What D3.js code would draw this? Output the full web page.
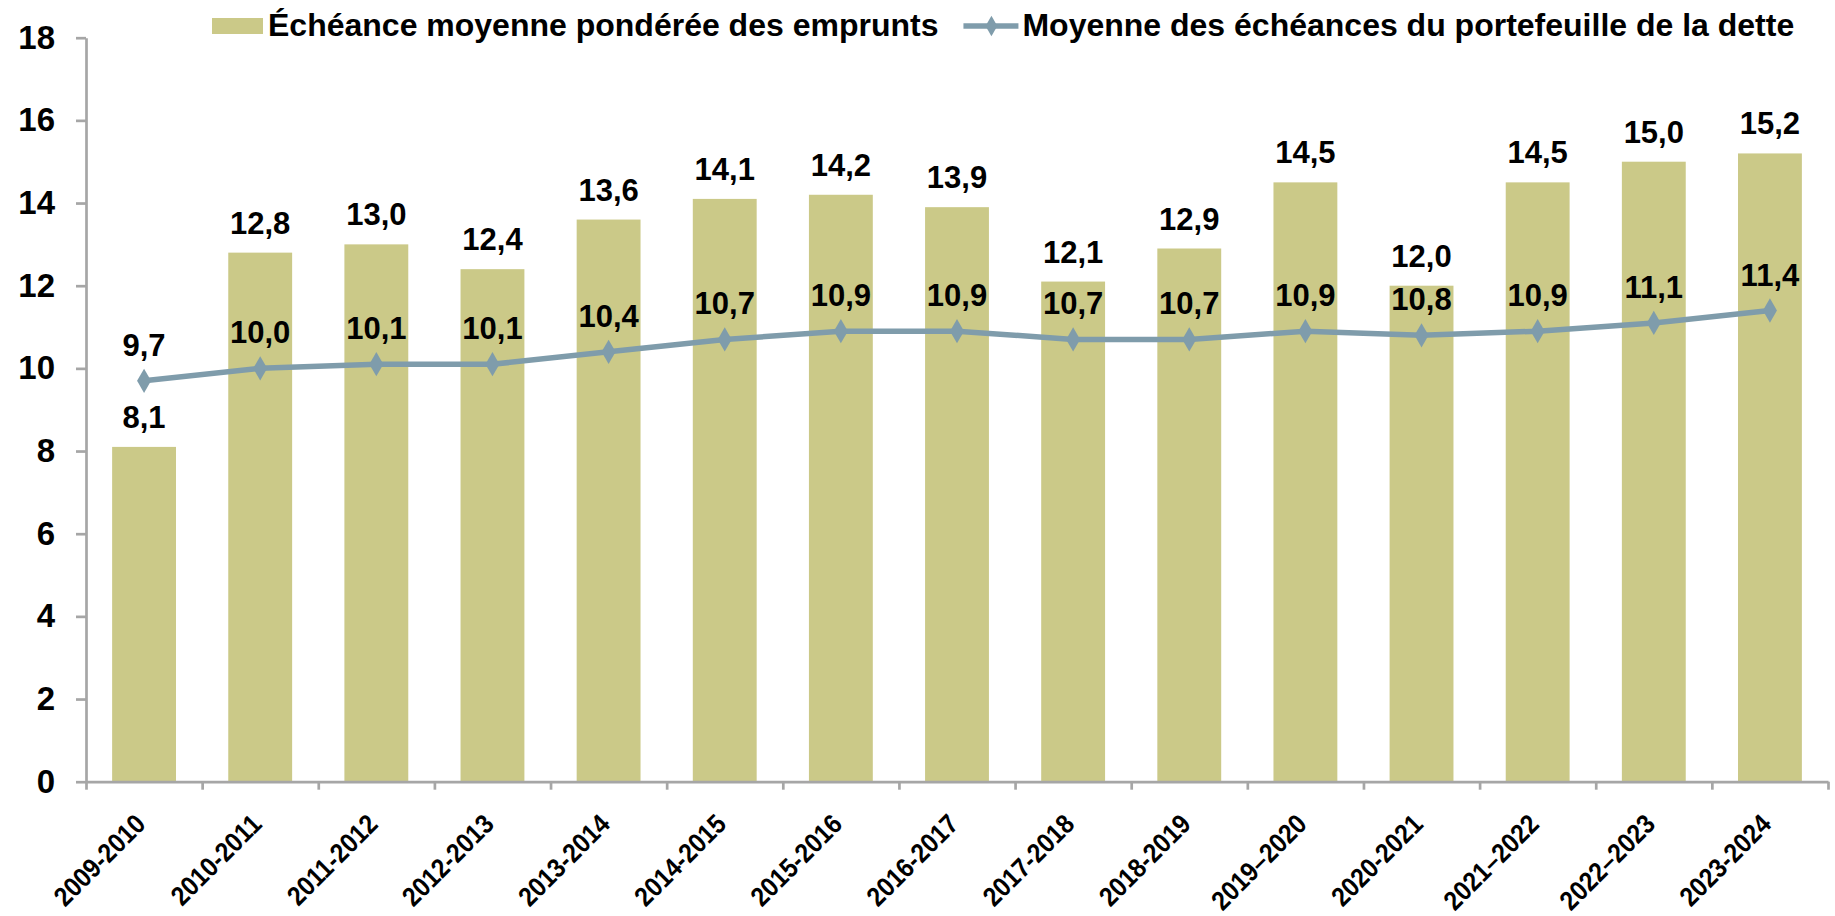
<!DOCTYPE html>
<html lang="fr">
<head>
<meta charset="utf-8">
<title>Échéances</title>
<script src="https://d3js.org/d3.v7.min.js"></script>
<style>
body { margin: 0; background: #fff; }
text { font-family: "Liberation Sans", Arial, sans-serif; font-weight: bold; fill: #000; }
.axis path, .axis line { stroke: #a6a6a6; stroke-width: 2.7; }
</style>
</head>
<body>
<svg id="chart" width="1835" height="916"></svg>
<script>
// data
var years = ["2009-2010", "2010-2011", "2011-2012", "2012-2013", "2013-2014", "2014-2015",
    "2015-2016", "2016-2017", "2017-2018", "2018-2019", "2019\u20132020", "2020-2021",
    "2021\u20132022", "2022\u20132023", "2023-2024"];
var emprunts = [8.1, 12.8, 13.0, 12.4, 13.6, 14.1, 14.2, 13.9, 12.1, 12.9, 14.5, 12.0, 14.5, 15.0, 15.2];
var portefeuille = [9.7, 10.0, 10.1, 10.1, 10.4, 10.7, 10.9, 10.9, 10.7, 10.7, 10.9, 10.8, 10.9, 11.1, 11.4];
var yTicks = [0, 2, 4, 6, 8, 10, 12, 14, 16, 18];
var seriesNames = ["Échéance moyenne pondérée des emprunts", "Moyenne des échéances du portefeuille de la dette"];

var barColor = "#cbc988",
    lineColor = "#7f9cab";

var svg = d3.select("#chart"),
    plotL = 86, plotR = 1828, plotT = 37.7, plotB = 781.7;

var fmt = function(v) { return d3.format(".1f")(v).replace(".", ","); };

var x = d3.scaleBand()
    .domain(years)
    .range([plotL, plotR])
    .paddingInner(0.45)
    .paddingOuter(0.225);

var xEdge = d3.scaleLinear()
    .domain([0, years.length])
    .range([plotL, plotR]);

var y = d3.scaleLinear()
    .domain([0, 18])
    .range([plotB, plotT]);

// bars
svg.append("g").selectAll("rect")
    .data(emprunts)
    .enter().append("rect")
    .attr("x", function(d, i) { return x(years[i]); })
    .attr("y", function(d) { return y(d); })
    .attr("width", x.bandwidth())
    .attr("height", function(d) { return y(0) - y(d); })
    .attr("fill", barColor);

// axes
svg.append("g")
    .attr("class", "axis")
    .attr("transform", "translate(" + plotL + ",0)")
    .call(d3.axisLeft(y).tickValues(yTicks).tickSize(10).tickSizeOuter(0).tickFormat(""));

svg.append("g")
    .attr("class", "axis")
    .attr("transform", "translate(0," + plotB + ")")
    .call(d3.axisBottom(xEdge).tickValues(d3.range(years.length + 1)).tickSize(8).tickSizeOuter(0).tickFormat(""));

svg.append("g").selectAll("text")
    .data(yTicks)
    .enter().append("text")
    .attr("x", 55)
    .attr("y", function(d) { return y(d) + 11; })
    .attr("text-anchor", "end")
    .style("font-size", "33px")
    .text(function(d) { return d; });

// category labels, slightly narrow like the original
svg.append("g").selectAll("text")
    .data(years)
    .enter().append("text")
    .attr("text-anchor", "end")
    .attr("transform", function(d) {
        return "translate(" + (x(d) + x.bandwidth() / 2 + 3) + "," + (plotB + 44) + ") rotate(-45) scale(0.9,1)";
    })
    .style("font-size", "27px")
    .text(function(d) { return d; });

// bar labels
svg.append("g").selectAll("text")
    .data(emprunts)
    .enter().append("text")
    .attr("x", function(d, i) { return x(years[i]) + x.bandwidth() / 2; })
    .attr("y", function(d) { return y(d) - 19; })
    .attr("text-anchor", "middle")
    .style("font-size", "31px")
    .text(fmt);

// line
var cx = function(d, i) { return x(years[i]) + x.bandwidth() / 2; };

svg.append("path")
    .datum(portefeuille)
    .attr("fill", "none")
    .attr("stroke", lineColor)
    .attr("stroke-width", 5.5)
    .attr("d", d3.line().x(cx).y(function(d) { return y(d); }));

var diamond = d3.symbol().type(d3.symbolDiamond).size(170);

svg.append("g").selectAll("path")
    .data(portefeuille)
    .enter().append("path")
    .attr("d", diamond)
    .attr("transform", function(d, i) { return "translate(" + cx(d, i) + "," + y(d) + ")"; })
    .attr("fill", lineColor);

svg.append("g").selectAll("text")
    .data(portefeuille)
    .enter().append("text")
    .attr("x", cx)
    .attr("y", function(d) { return y(d) - 25; })
    .attr("text-anchor", "middle")
    .style("font-size", "31px")
    .text(fmt);

// legend
var legend = svg.append("g");

legend.append("rect")
    .attr("x", 212).attr("y", 18)
    .attr("width", 51).attr("height", 16)
    .attr("fill", barColor);

var t1 = legend.append("text")
    .attr("x", 268).attr("y", 36)
    .style("font-size", "32px")
    .text(seriesNames[0]);

var lx = 268 + t1.node().getComputedTextLength() + 25;

legend.append("line")
    .attr("x1", lx).attr("x2", lx + 55)
    .attr("y1", 26).attr("y2", 26)
    .attr("stroke", lineColor)
    .attr("stroke-width", 5.5);

legend.append("path")
    .attr("d", d3.symbol().type(d3.symbolDiamond).size(120))
    .attr("transform", "translate(" + (lx + 28) + ",26)")
    .attr("fill", lineColor);

legend.append("text")
    .attr("x", lx + 59).attr("y", 36)
    .style("font-size", "32px")
    .text(seriesNames[1]);
</script>
</body>
</html>
